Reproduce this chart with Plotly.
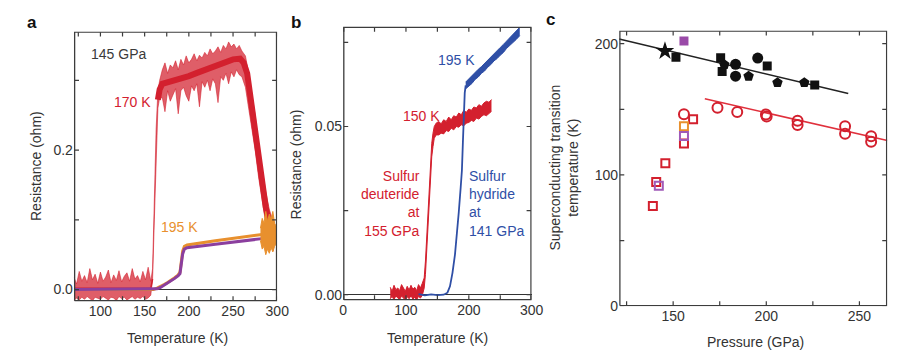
import plotly.graph_objects as go

W, H = 911, 364
FONT = "Liberation Sans, Arial, sans-serif"
DARK = "#333333"
RED = "#d3202e"
RED_SOFT = "rgba(211,32,46,0.72)"
BLUE = "#2f4fa6"
ORANGE = "#e8902e"
PURPLE = "#8b3f9e"
FRAME = "#3c3c3c"

# ---------------- panel a : 145 GPa (resistance vs temperature) ----------------
a_red_T = [70, 73, 76, 79, 82, 85, 88, 91, 94, 97, 100, 103, 106, 109, 112, 115, 118, 121, 124, 127,
           130, 133, 136, 139, 142, 145, 148, 151, 154, 157,
           159, 161, 163, 165, 167,
           170, 173, 176, 179, 182, 185, 188, 191, 194, 197, 200, 203, 206, 209, 212, 215, 218, 221, 224, 227,
           230, 233, 236, 239, 242, 245, 248, 251, 254, 257, 260,
           264, 267, 271, 275, 279, 283, 287, 291, 296]
a_red_lo = [-0.016, -0.012, -0.015, -0.011, -0.014, -0.010, -0.013, -0.016, -0.011, -0.012,
            -0.014, -0.010, -0.013, -0.015, -0.011, -0.012, -0.016, -0.010, -0.013, -0.011,
            -0.015, -0.012, -0.010, -0.014, -0.011, -0.013, -0.010, -0.014, -0.012, -0.008,
            0.015, 0.100, 0.200, 0.260, 0.275,
            0.275, 0.255, 0.285, 0.270, 0.280, 0.288, 0.252, 0.285, 0.290, 0.278,
            0.270, 0.292, 0.285, 0.295, 0.262, 0.298, 0.290, 0.300, 0.285, 0.302,
            0.295, 0.268, 0.305, 0.300, 0.310, 0.295, 0.312, 0.305, 0.315, 0.308, 0.305,
            0.290, 0.265, 0.235, 0.200, 0.160, 0.125, 0.095, 0.070, 0.055]
a_red_hi = [0.018, 0.008, 0.026, 0.012, 0.020, 0.010, 0.030, 0.014, 0.022, 0.009,
            0.025, 0.012, 0.018, 0.028, 0.010, 0.021, 0.013, 0.027, 0.011, 0.019,
            0.024, 0.012, 0.030, 0.015, 0.020, 0.011, 0.026, 0.014, 0.032, 0.012,
            0.030, 0.130, 0.230, 0.285, 0.300,
            0.315, 0.325, 0.310, 0.322, 0.318, 0.328, 0.315, 0.330, 0.322, 0.335,
            0.325, 0.330, 0.338, 0.328, 0.336, 0.332, 0.340, 0.335, 0.345, 0.338,
            0.342, 0.348, 0.340, 0.350, 0.345, 0.355, 0.348, 0.352, 0.345, 0.350, 0.342,
            0.335, 0.315, 0.285, 0.250, 0.205, 0.170, 0.140, 0.115, 0.095]
# dense core of the noisy red trace
a_red_base_T = [70, 157, 159]
a_red_base_R = [0.002, 0.002, 0.015]
a_red_core_T = [165, 167, 170, 180, 190, 200, 210, 220, 230, 240, 250, 258, 262, 266, 271, 275, 279, 283, 287, 291, 295]
a_red_core_R = [0.272, 0.287, 0.295, 0.298, 0.303, 0.306, 0.311, 0.316, 0.320, 0.326, 0.330, 0.331, 0.325,
                0.310, 0.262, 0.225, 0.183, 0.148, 0.118, 0.093, 0.078]

a_line_T = [70, 160, 164, 168, 172, 176, 180, 184, 188, 190, 191.5, 193, 195, 198, 230, 260, 283]
a_orange_R = [0.0, 0.0, 0.002, 0.004, 0.007, 0.010, 0.013, 0.017, 0.021, 0.025, 0.040, 0.055, 0.062, 0.064, 0.070, 0.075, 0.079]
a_purple_R = [0.0, 0.0, 0.001, 0.003, 0.006, 0.009, 0.012, 0.016, 0.020, 0.023, 0.037, 0.051, 0.058, 0.060, 0.065, 0.069, 0.073]

a_orange_noise_T = [281, 283, 285, 287, 289, 291, 293, 295, 297, 299]
a_orange_noise_lo = [0.070, 0.058, 0.062, 0.050, 0.058, 0.052, 0.060, 0.054, 0.062, 0.066]
a_orange_noise_hi = [0.088, 0.102, 0.095, 0.112, 0.098, 0.108, 0.100, 0.112, 0.095, 0.090]

# ---------------- panel b : deuteride vs hydride ----------------
b_red_T = [75, 78, 81, 84, 87, 90, 93, 96, 99, 102, 105, 108, 111, 114, 117, 120, 123, 126,
           129, 131, 133, 135, 137, 139, 141, 143, 145, 148,
           152, 156, 160, 164, 168, 172, 176, 180, 184, 188, 192, 196, 200, 204, 208, 212, 216, 220,
           224, 228, 232, 236]
b_red_lo = [-0.0012, -0.0005, -0.0015, -0.0003, -0.0010, -0.0014, -0.0004, -0.0011, -0.0016, -0.0006,
            -0.0012, -0.0003, -0.0013, -0.0008, -0.0015, -0.0005, -0.0010, -0.0002,
            0.0020, 0.0060, 0.0130, 0.0210, 0.0290, 0.0360, 0.0410, 0.0440, 0.0465, 0.0475,
            0.0475, 0.0480, 0.0478, 0.0488, 0.0485, 0.0495, 0.0490, 0.0500, 0.0498, 0.0505, 0.0502,
            0.0510, 0.0512, 0.0518, 0.0515, 0.0525, 0.0522, 0.0530, 0.0535, 0.0532, 0.0540, 0.0545]
b_red_hi = [0.0022, 0.0010, 0.0028, 0.0015, 0.0020, 0.0012, 0.0030, 0.0018, 0.0010, 0.0025,
            0.0014, 0.0028, 0.0016, 0.0022, 0.0012, 0.0030, 0.0020, 0.0034,
            0.0050, 0.0100, 0.0170, 0.0250, 0.0330, 0.0400, 0.0450, 0.0480, 0.0500, 0.0510,
            0.0515, 0.0508, 0.0520, 0.0515, 0.0528, 0.0520, 0.0532, 0.0528, 0.0540, 0.0535, 0.0548,
            0.0542, 0.0552, 0.0548, 0.0558, 0.0555, 0.0565, 0.0560, 0.0570, 0.0575, 0.0572, 0.0580]

b_blue_T = [120, 130, 140, 150, 160, 166, 170, 174, 178, 181, 184, 187, 189, 190.5, 192, 193.5, 195]
b_blue_R = [0.0002, -0.0002, 0.0001, -0.0001, 0.0, 0.0006, 0.0025, 0.0065, 0.0120, 0.0175, 0.0245,
            0.0318, 0.0370, 0.0450, 0.0540, 0.0600, 0.0622]
b_blue_band_T = [195, 200, 205, 210, 215, 220, 225, 230, 235, 240, 245, 250, 255, 260, 265, 270, 275, 281]
b_blue_band_lo = [0.0612, 0.0620, 0.0628, 0.0640, 0.0647, 0.0658, 0.0665, 0.0676, 0.0684, 0.0695,
                  0.0702, 0.0712, 0.0720, 0.0732, 0.0740, 0.0750, 0.0758, 0.0770]
b_blue_band_hi = [0.0632, 0.0642, 0.0650, 0.0660, 0.0670, 0.0678, 0.0688, 0.0697, 0.0706, 0.0716,
                  0.0725, 0.0735, 0.0744, 0.0754, 0.0763, 0.0773, 0.0782, 0.0795]

# ---------------- panel c : Tc vs pressure ----------------
c_blk_sq_P = [151.5, 175.5, 176.3, 200.5, 226.0]
c_blk_sq_T = [189.6, 189.3, 178.8, 182.9, 168.5]
c_blk_ci_P = [183.5, 183.5, 195.4]
c_blk_ci_T = [184.2, 175.2, 189.0]
c_blk_pe_P = [177.5, 190.5, 206.0, 220.4]
c_blk_pe_T = [184.0, 175.2, 170.3, 170.3]
c_star_P = [145.6]
c_star_T = [194.3]
c_pur_fill_P = [155.8]
c_pur_fill_T = [202.0]
c_red_ci_P = [155.8, 173.8, 184.4, 199.8, 200.2, 216.8, 216.8, 242.3, 242.3, 256.3, 256.3]
c_red_ci_T = [146.2, 151.2, 148.0, 146.0, 144.5, 141.3, 138.0, 137.0, 131.4, 129.4, 125.2]
c_red_sq_P = [139.1, 140.9, 145.8, 155.8, 160.7]
c_red_sq_T = [76.3, 94.7, 109.0, 123.9, 142.5]
c_or_sq_P = [155.8]
c_or_sq_T = [137.0]
c_pur_sq_P = [142.3, 155.8]
c_pur_sq_T = [91.7, 129.6]
c_fit_blk_P = [121, 244]
c_fit_blk_T = [203.5, 162.0]
c_fit_red_P = [167, 265]
c_fit_red_T = [158.0, 126.2]

# axis ranges
a_xrange = [70, 300]
a_yrange = [-0.017, 0.37]
b_xrange = [0, 300]
b_yrange = [-0.0017, 0.0797]
c_xrange = [121, 265]
c_yrange = [0, 210]

# tick positions (labelled + unlabelled minor)
a_xticks = [75, 100, 125, 150, 175, 200, 225, 250, 275, 300]
a_xlabels = ["", "100", "", "150", "", "200", "", "250", "", "300"]
a_yticks = [0.0, 0.1, 0.2, 0.3]
a_ylabels = ["0.0", "", "0.2", ""]
b_xticks = [0, 50, 100, 150, 200, 250, 300]
b_xlabels = ["0", "", "100", "", "200", "", "300"]
b_yticks = [0.0, 0.025, 0.05, 0.075]
b_ylabels = ["0.00", "", "0.05", ""]
c_xticks = [125, 150, 175, 200, 225, 250]
c_xlabels = ["", "150", "", "200", "", "250"]
c_yticks = [0, 50, 100, 150, 200]
c_ylabels = ["0", "", "100", "", "200"]

fig = go.Figure()


def add_line(x, y, color, width, xa, ya):
    fig.add_trace(go.Scatter(x=x, y=y, mode="lines", line=dict(color=color, width=width),
                             xaxis=xa, yaxis=ya, showlegend=False, hoverinfo="skip"))


def add_band(x, lo, hi, color, xa, ya, width=1.0, fillcolor=None):
    add_line(x, lo, color, width, xa, ya)
    fig.add_trace(go.Scatter(x=x, y=hi, mode="lines", line=dict(color=color, width=width),
                             fill="tonexty", fillcolor=fillcolor or color, xaxis=xa, yaxis=ya,
                             showlegend=False, hoverinfo="skip"))


def add_markers(x, y, symbol, color, size, xa, ya, lw=0, lcolor=None):
    fig.add_trace(go.Scatter(x=x, y=y, mode="markers",
                             marker=dict(symbol=symbol, color=color, size=size,
                                         line=dict(width=lw, color=lcolor or color)),
                             xaxis=xa, yaxis=ya, showlegend=False, hoverinfo="skip"))


# panel a
add_band(a_red_T, a_red_lo, a_red_hi, RED_SOFT, "x", "y", 0.8, RED_SOFT)
add_line(a_red_base_T, a_red_base_R, RED, 1.5, "x", "y")
add_line(a_red_core_T, a_red_core_R, RED, 6, "x", "y")
add_line(a_line_T, a_orange_R, ORANGE, 3, "x", "y")
add_line(a_line_T, a_purple_R, PURPLE, 3, "x", "y")
add_band(a_orange_noise_T, a_orange_noise_lo, a_orange_noise_hi, ORANGE, "x", "y", 1.0)

# panel b
add_band(b_red_T, b_red_lo, b_red_hi, RED, "x2", "y2", 1.0)
add_line(b_blue_T, b_blue_R, BLUE, 1.8, "x2", "y2")
add_band(b_blue_band_T, b_blue_band_lo, b_blue_band_hi, BLUE, "x2", "y2", 1.0)

# panel c
add_line(c_fit_blk_P, c_fit_blk_T, "#222222", 1.5, "x3", "y3")
add_line(c_fit_red_P, c_fit_red_T, "#e0303c", 1.5, "x3", "y3")
add_markers(c_blk_sq_P, c_blk_sq_T, "square", "#111111", 9, "x3", "y3")
add_markers(c_blk_ci_P, c_blk_ci_T, "circle", "#111111", 11, "x3", "y3")
add_markers(c_blk_pe_P, c_blk_pe_T, "pentagon", "#111111", 11, "x3", "y3")
add_markers(c_star_P, c_star_T, "star", "#111111", 14, "x3", "y3")
add_markers(c_pur_fill_P, c_pur_fill_T, "square", "#9a4aa8", 9, "x3", "y3")
add_markers(c_red_ci_P, c_red_ci_T, "circle-open", RED, 10, "x3", "y3", 2)
add_markers(c_red_sq_P, c_red_sq_T, "square-open", RED, 8, "x3", "y3", 2)
add_markers(c_or_sq_P, c_or_sq_T, "square-open", ORANGE, 8, "x3", "y3", 2)
add_markers(c_pur_sq_P, c_pur_sq_T, "square-open", "#a05ab8", 8, "x3", "y3", 2)

# panel boxes in page pixels: (left, top, right, bottom)
BOX_A = (63, 24, 270, 300)
BOX_B = (337, 19, 529, 299)
BOX_C = (618, 23, 891, 305)


# frame + inside ticks drawn as line traces in each panel's own axis scale
def add_frame_and_ticks(xa, ya, xr, yr, xt, yt, box, lw=1.4, L=4.5):
    wpx, hpx = box[2] - box[0], box[3] - box[1]
    ux = (xr[1] - xr[0]) / wpx   # data units per pixel
    uy = (yr[1] - yr[0]) / hpx
    x0, x1 = xr[0] + ux * lw / 2, xr[1] - ux * lw / 2
    y0, y1 = yr[0] + uy * lw / 2, yr[1] - uy * lw / 2
    add_line([x0, x1, x1, x0, x0], [y0, y0, y1, y1, y0], FRAME, lw, xa, ya)
    tx, ty = [], []
    for v in xt:
        vv = min(max(v, x0), x1)
        tx += [vv, vv, None, vv, vv, None]
        ty += [y0, y0 + uy * L, None, y1, y1 - uy * L, None]
    for v in yt:
        vv = min(max(v, y0), y1)
        tx += [x0, x0 + ux * L, None, x1, x1 - ux * L, None]
        ty += [vv, vv, None, vv, vv, None]
    add_line(tx, ty, FRAME, 1.2, xa, ya)


add_frame_and_ticks("x", "y", a_xrange, a_yrange, a_xticks, a_yticks, BOX_A)
add_frame_and_ticks("x2", "y2", b_xrange, b_yrange, b_xticks, b_yticks, BOX_B)
add_frame_and_ticks("x3", "y3", c_xrange, c_yrange, c_xticks, c_yticks, BOX_C)


def dom_x(box):
    return [box[0] / W, box[2] / W]


def dom_y(box):
    return [1 - box[3] / H, 1 - box[1] / H]


def ax(**kw):
    d = dict(showline=False, ticks="", showgrid=False, zeroline=False,
             tickfont=dict(family=FONT, size=14, color=DARK))
    d.update(kw)
    return d


fig.update_layout(
    width=W, height=H, margin=dict(l=0, r=0, t=0, b=0),
    paper_bgcolor="white", plot_bgcolor="white", showlegend=False,
    font=dict(family=FONT, size=14, color=DARK),
    xaxis=ax(domain=dom_x(BOX_A), range=a_xrange, tickvals=a_xticks, ticktext=a_xlabels, anchor="y"),
    yaxis=ax(domain=dom_y(BOX_A), range=a_yrange, tickvals=a_yticks, ticktext=a_ylabels,
             anchor="x", zeroline=True, zerolinecolor="#333333", zerolinewidth=1),
    xaxis2=ax(domain=dom_x(BOX_B), range=b_xrange, tickvals=b_xticks, ticktext=b_xlabels, anchor="y2"),
    yaxis2=ax(domain=dom_y(BOX_B), range=b_yrange, tickvals=b_yticks, ticktext=b_ylabels,
              anchor="x2", zeroline=True, zerolinecolor="#333333", zerolinewidth=1),
    xaxis3=ax(domain=dom_x(BOX_C), range=c_xrange, tickvals=c_xticks, ticktext=c_xlabels, anchor="y3"),
    yaxis3=ax(domain=dom_y(BOX_C), range=c_yrange, tickvals=c_yticks, ticktext=c_ylabels, anchor="x3"),
)


def pann(x, y, text, size=14, color=DARK, angle=0, bold=False):
    fig.add_annotation(x=x / W, y=1 - y / H, xref="paper", yref="paper",
                       text=("<b>%s</b>" % text) if bold else text,
                       showarrow=False, textangle=angle, xanchor="center", yanchor="middle", align="center",
                       font=dict(family=FONT, size=size, color=color))


def dann(x, y, text, color, xa, ya, xanchor="center", align="center", size=14):
    fig.add_annotation(x=x, y=y, xref=xa, yref=ya, text=text, showarrow=False,
                       xanchor=xanchor, yanchor="middle", align=align,
                       font=dict(family=FONT, size=size, color=color))


# panel letters
pann(20, 15, "a", size=17, color="#111111", bold=True)
pann(289, 15, "b", size=17, color="#111111", bold=True)
pann(548, 12, "c", size=17, color="#111111", bold=True)

# axis titles
pann(168, 337, "Temperature (K)")
pann(25, 162, "Resistance (ohm)", angle=-90)
pann(433, 337, "Temperature (K)")
pann(290, 160, "Resistance (ohm)", angle=-90)
pann(757, 342, "Pressure (GPa)")
pann(562, 163, "Superconducting transition<br>temperature (K)", angle=-90)

# in-plot labels
dann(120, 0.338, "145 GPa", "#3a3a3a", "x", "y")
dann(159, 0.269, "170 K", RED, "x", "y", xanchor="right")
dann(166.5, 0.090, "195 K", ORANGE, "x", "y", xanchor="left")
dann(181, 0.0698, "195 K", BLUE, "x2", "y2")
dann(125, 0.0532, "150 K", RED, "x2", "y2")
dann(126, 0.027, "Sulfur<br>deuteride<br>at<br>155 GPa", RED, "x2", "y2", xanchor="right", align="right")
dann(197, 0.027, "Sulfur<br>hydride<br>at<br>141 GPa", BLUE, "x2", "y2", xanchor="left", align="left")

fig.write_html("out.html")
